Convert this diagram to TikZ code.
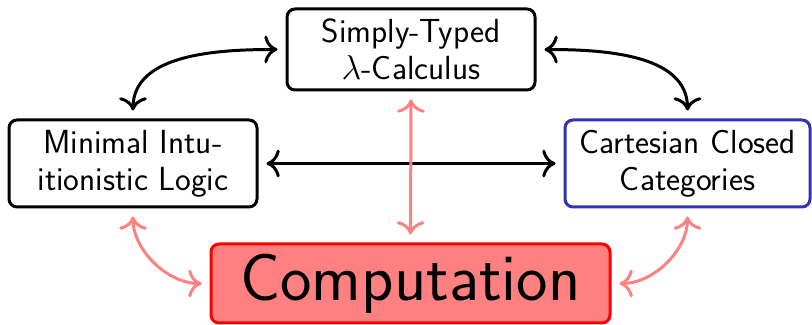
\documentclass[tikz,border=0pt]{standalone}
\usetikzlibrary{arrows.meta}
\definecolor{cccblue}{RGB}{50,50,180}
\begin{document}
\begin{tikzpicture}[x=1pt,y=1pt,
  box/.style={draw, line width=1.5pt, rounded corners=4pt, align=center,
    font=\sffamily\fontsize{16.7}{18.5}\selectfont, inner sep=0pt},
  link/.style={line width=1.5pt, {To[scale=1.35]}-{To[scale=1.35]}, shorten <=4pt, shorten >=4pt},
  pinklink/.style={link, draw=red!50}]
\useasboundingbox (0,0) rectangle (406,162.5);
\node[box, minimum width=124pt, minimum height=40.5pt] (stlc) at (205.5,137.75) {Simply-Typed\\$\lambda$-Calculus};
\node[box, minimum width=124pt, minimum height=43.5pt] (mil) at (66.5,80.75) {Minimal Intu-\\itionistic Logic};
\node[box, draw=cccblue, minimum width=122.5pt, minimum height=43.5pt] (ccc) at (343.75,80.75) {Cartesian Closed\\Categories};
\node[box, draw=red, fill=red!50, minimum width=199.5pt, minimum height=39.5pt,
  font=\sffamily\fontsize{33.4}{36}\selectfont] (comp) at (205.25,20.75) {Computation};
\draw[link] (stlc.west) to[out=180,in=90] (mil.north);
\draw[link] (stlc.east) to[out=0,in=90] (ccc.north);
\draw[link] (mil.east) -- (ccc.west);
\draw[pinklink] (stlc.south) -- (comp.north);
\draw[pinklink] (mil.south) to[out=-90,in=180] (comp.west);
\draw[pinklink] (ccc.south) to[out=-90,in=0] (comp.east);
\end{tikzpicture}
\end{document}
